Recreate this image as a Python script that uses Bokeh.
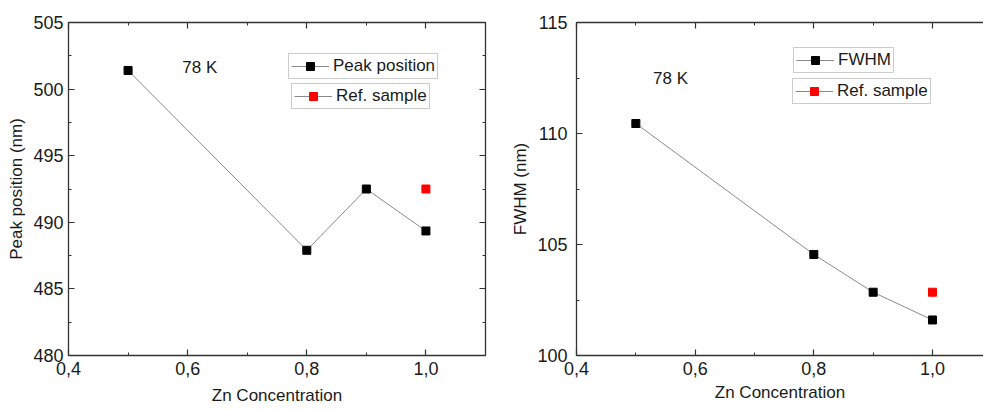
from bokeh.plotting import figure
from bokeh.models import (Range1d, LinearAxis, SingleIntervalTicker, CustomJSTickFormatter,
                          Legend, LegendItem, Label)
from bokeh.layouts import row
from bokeh.embed import file_html
from bokeh.resources import INLINE

# ---- data ----
zn = [0.5, 0.8, 0.9, 1.0]
peak_position = [501.4, 487.9, 492.5, 489.35]
fwhm = [110.45, 104.55, 102.85, 101.6]
ref_x = [1.0]
ref_peak = [492.5]
ref_fwhm = [102.85]
x_ticks_interval = 0.2
temp_label = "78 K"

FONT = "Liberation Sans"
AXC = "#333333"
TXT = "#1a1a1a"
LINEC = "#8a8a8a"

fmt = CustomJSTickFormatter(code="return tick.toFixed(1).replace('.', ',');")
blank = CustomJSTickFormatter(code="return '';")


def style_axis(ax, labels=True):
    ax.axis_line_color = AXC
    ax.axis_line_width = 1.3
    ax.major_tick_line_color = AXC
    ax.minor_tick_line_color = AXC
    ax.major_tick_in = 6
    ax.major_tick_out = 0
    ax.minor_tick_in = 3
    ax.minor_tick_out = 0
    ax.major_tick_line_width = 1.2
    ax.minor_tick_line_width = 1
    if labels:
        ax.major_label_text_font = FONT
        ax.major_label_text_font_size = "18px"
        ax.major_label_text_color = TXT
        ax.axis_label_text_font = FONT
        ax.axis_label_text_font_size = "17px"
        ax.axis_label_text_color = TXT
        ax.axis_label_text_font_style = "normal"
    else:
        ax.formatter = blank
        ax.major_label_text_font_size = "1px"
        ax.major_label_standoff = 0


def make_fig(width, height, yr, xend, ylabel, yvals, refvals, name, bl, bt, bb, br,
             right_axis, leg1, leg2, txt_xy, ystand, xlab_stand):
    p = figure(width=width, height=height, output_backend="svg", toolbar_location=None,
               x_range=Range1d(0.4, xend), y_range=Range1d(*yr),
               min_border_left=bl, min_border_top=bt, min_border_bottom=bb, min_border_right=br)
    p.outline_line_color = None
    p.grid.visible = False
    p.background_fill_color = "white"
    p.border_fill_color = "white"

    p.xaxis.ticker = SingleIntervalTicker(interval=x_ticks_interval, num_minor_ticks=2)
    p.yaxis.ticker = SingleIntervalTicker(interval=5, num_minor_ticks=2)
    p.xaxis.formatter = fmt
    p.xaxis.axis_label = "Zn Concentration"
    p.yaxis.axis_label = ylabel
    for ax in p.xaxis + p.yaxis:
        style_axis(ax)
    p.xaxis.major_label_standoff = 6
    p.xaxis.axis_label_standoff = xlab_stand
    p.yaxis.major_label_standoff = ystand
    p.yaxis.axis_label_standoff = 4

    top = LinearAxis(ticker=SingleIntervalTicker(interval=x_ticks_interval, num_minor_ticks=2))
    style_axis(top, labels=False)
    p.add_layout(top, "above")
    if right_axis:
        r = LinearAxis(ticker=SingleIntervalTicker(interval=5, num_minor_ticks=2))
        style_axis(r, labels=False)
        p.add_layout(r, "right")

    l1 = p.line(zn, yvals, line_color=LINEC, line_width=1)
    s1 = p.scatter(zn, yvals, marker="square", size=8, fill_color="black", line_color="black")
    l2 = p.line(ref_x, refvals, line_color=LINEC, line_width=1)
    s2 = p.scatter(ref_x, refvals, marker="square", size=8, fill_color="red", line_color="red")

    for (item, loc) in ((LegendItem(label=name, renderers=[l1, s1]), leg1),
                        (LegendItem(label="Ref. sample", renderers=[l2, s2]), leg2)):
        lg = Legend(items=[item], location=loc, padding=2, margin=0, spacing=0,
                    glyph_width=38, glyph_height=20, label_standoff=4,
                    label_text_font=FONT, label_text_font_size="17px", label_text_color=TXT,
                    border_line_color="#9a9a9a", border_line_width=1.5,
                    background_fill_color="white", background_fill_alpha=1,
                    label_height=20)
        p.add_layout(lg, "center")

    p.add_layout(Label(x=txt_xy[0], y=txt_xy[1], text=temp_label, text_font=FONT,
                       text_font_size="17px", text_color=TXT, text_baseline="middle",
                       text_align="left"))
    return p


p1 = make_fig(500, 411, (480, 505), 1.1, "Peak position (nm)", peak_position, ref_peak,
              "Peak position", 68, 18, 56, 15, True, (220, 276), (223, 246), (0.591, 501.6), 5, 8)
p2 = make_fig(483, 411, (100, 115), 1.086, "FWHM (nm)", fwhm, ref_fwhm,
              "FWHM", 76, 22, 52, 0, False, (217, 282), (216, 251), (0.529, 112.46), 9, 5)

layout = row(p1, p2)
open("out.html", "w").write(file_html(layout, INLINE))
